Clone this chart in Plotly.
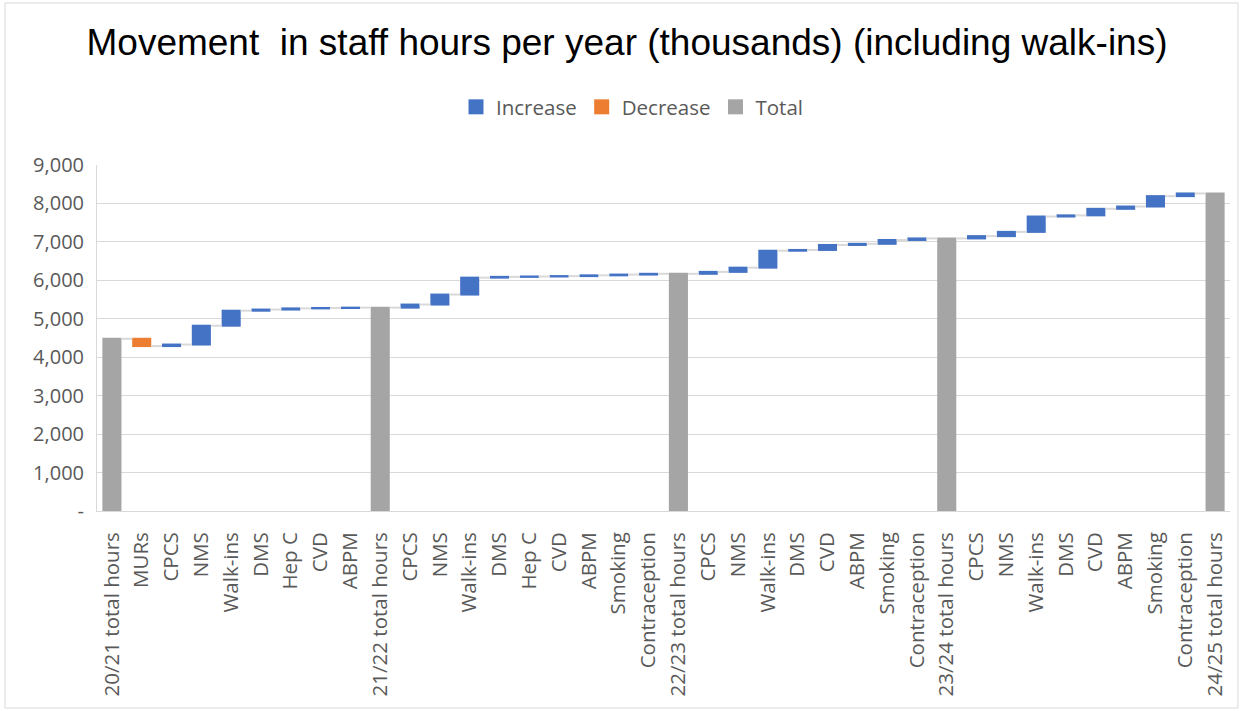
import plotly.graph_objects as go

labels = [
    "20/21 total hours", "MURs", "CPCS", "NMS", "Walk-ins", "DMS", "Hep C", "CVD", "ABPM",
    "21/22 total hours", "CPCS", "NMS", "Walk-ins", "DMS", "Hep C", "CVD", "ABPM", "Smoking", "Contraception",
    "22/23 total hours", "CPCS", "NMS", "Walk-ins", "DMS", "CVD", "ABPM", "Smoking", "Contraception",
    "23/24 total hours", "CPCS", "NMS", "Walk-ins", "DMS", "CVD", "ABPM", "Smoking", "Contraception",
    "24/25 total hours",
]
# totals are absolute values; others are movements
values = [
    4480, -190, 40, 490, 390, 30, 30, 10, 10,
    5290, 80, 260, 440, 20, 10, 10, 20, 20, 20,
    6170, 50, 110, 440, 20, 130, 30, 100, 40,
    7090, 60, 110, 400, 30, 170, 60, 270, 70,
    8260,
]
measures = ["absolute" if "total" in l else "relative" for l in labels]

y_ticks = [0, 1000, 2000, 3000, 4000, 5000, 6000, 7000, 8000, 9000]
y_ticktext = ["-" if v == 0 else f"{v:,}" for v in y_ticks]

C_INC = "#4472C4"
C_DEC = "#ED7D31"
C_TOT = "#A5A5A5"
TXT = "#595959"
GRID = "#D9D9D9"
FONT = "Open Sans"

xs = list(range(len(labels)))

fig = go.Figure()
fig.add_trace(go.Waterfall(
    x=xs, y=values, measure=measures,
    increasing=dict(marker=dict(color=C_INC)),
    decreasing=dict(marker=dict(color=C_DEC)),
    totals=dict(marker=dict(color=C_TOT)),
    connector=dict(mode="between", line=dict(color=GRID, width=2)),
    showlegend=False, hoverinfo="x+y",
))
for name, col in [("Increase", C_INC), ("Decrease", C_DEC), ("Total", C_TOT)]:
    fig.add_trace(go.Scatter(x=[None], y=[None], name=name, mode="markers",
                             marker=dict(symbol="square", size=15, color=col), showlegend=True))

W, H = 1243, 711
L, R, T, B = 97, 13, 165, 200
pw, ph = W - L - R, H - T - B

fig.update_layout(
    width=W, height=H,
    margin=dict(l=L, r=R, t=T, b=B, pad=0),
    paper_bgcolor="white", plot_bgcolor="white",
    font=dict(family=FONT, color=TXT, size=20),
    title=dict(text="Movement&nbsp;&nbsp;in staff hours per year (thousands) (including walk-ins)",
               x=(627 - L) / pw, xref="paper", xanchor="center", y=1 - 42 / H, yanchor="middle",
               font=dict(family="Liberation Sans", size=37, color="#000000")),
    legend=dict(orientation="h", x=(632 - L) / pw, xanchor="center", y=1 + (165 - 107) / ph, yanchor="middle",
                font=dict(size=20.5, color=TXT), itemsizing="trace", itemwidth=30, traceorder="normal"),
    waterfallgap=0.36,
    showlegend=True,
)
fig.update_xaxes(
    tickmode="array", tickvals=xs, ticktext=labels, tickangle=-90,
    range=[-0.5, len(labels) - 0.5],
    showgrid=False, showline=True, linecolor=GRID, linewidth=1,
    ticks="", ticklabelstandoff=12, tickfont=dict(size=20.5, color=TXT),
    zeroline=False,
)
fig.update_yaxes(
    range=[0, 9000], tickmode="array", tickvals=y_ticks, ticktext=y_ticktext,
    showgrid=True, gridcolor=GRID, gridwidth=1,
    showline=True, linecolor=GRID, linewidth=1,
    zeroline=False, ticks="", ticklabelstandoff=8, tickfont=dict(size=20, color=TXT),
)
# chart-area border
fig.add_shape(type="rect", xref="paper", yref="paper",
              x0=(5 - L) / pw, x1=(W - 5 - L) / pw,
              y0=-(H - 3 - (T + ph)) / ph, y1=1 + (T - 3) / ph,
              line=dict(color=GRID, width=1), fillcolor="rgba(0,0,0,0)", layer="below")

fig.write_html("out.html", config={"displayModeBar": False},
               post_script="document.body.style.margin='0';document.body.style.overflow='hidden';")
